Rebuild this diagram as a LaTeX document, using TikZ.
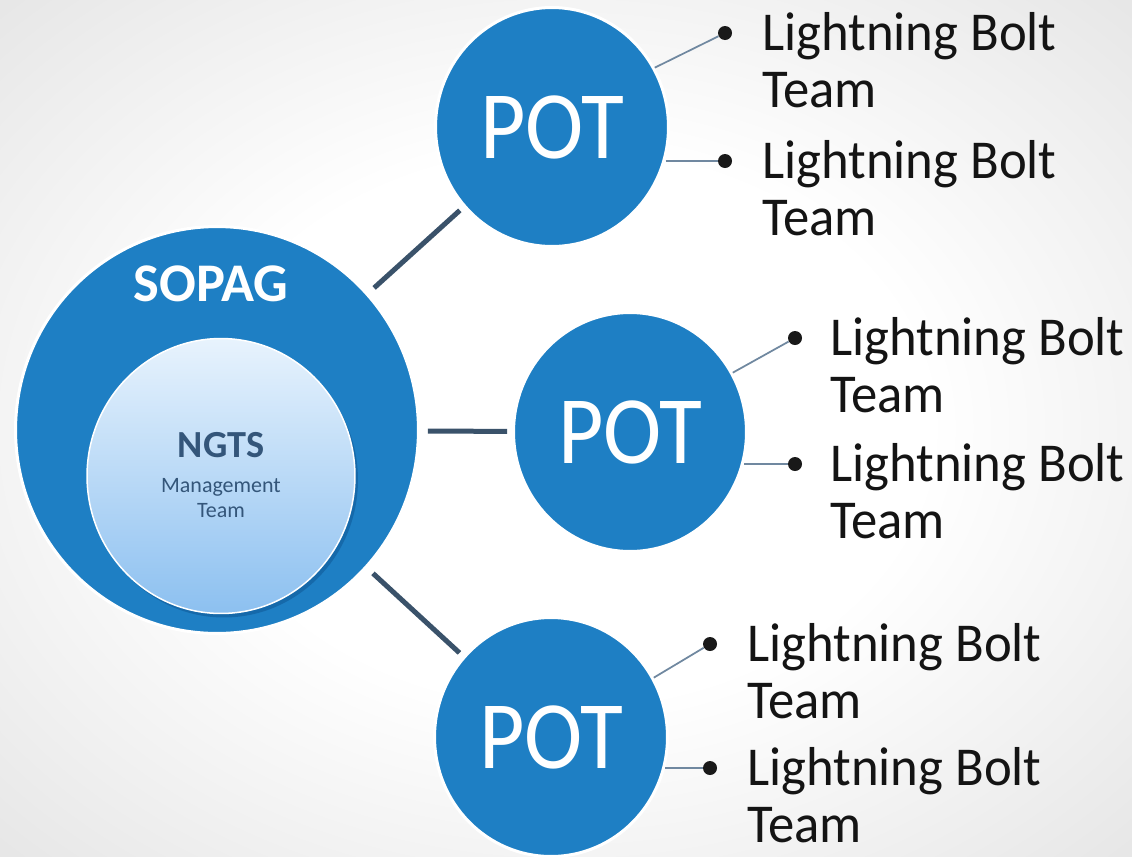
\documentclass[tikz,border=0pt]{standalone}
\usepackage{fontspec}
\setmainfont{Carlito}
\usepackage{graphicx}
\usetikzlibrary{shapes.geometric}
\definecolor{potblue}{RGB}{30,127,196}
\definecolor{bggray}{RGB}{194,194,194}
\definecolor{bgmid}{RGB}{212,212,212}
\definecolor{linkdark}{RGB}{58,82,106}
\definecolor{linkthin}{RGB}{112,136,160}
\definecolor{ngtstop}{RGB}{232,243,253}
\definecolor{ngtsbot}{RGB}{140,192,240}
\definecolor{ngtstext}{RGB}{52,86,122}
\definecolor{shadowblue}{RGB}{18,96,160}
\pgfdeclareradialshading{bgshade}{\pgfpoint{0bp}{0bp}}{color(0bp)=(white); color(16bp)=(white); color(50bp)=(bgmid); color(72bp)=(bggray)}
\newcommand\lbtext{\scalebox{1}[1.04]{\vtop{\hbox{Lightning Bolt}\hbox{Team}}}}
\newcommand\pottext{\scalebox{1}[1.1]{POT}}
\begin{document}
\begin{tikzpicture}[x=0.02cm,y=-0.02cm,
  blob/.style={ellipse, draw=white, line width=0.06cm, fill=potblue, inner sep=0pt},
  pot/.style={blob, minimum width=4.66cm, minimum height=4.78cm, text=white, font=\fontsize{50}{50}\selectfont},
  bulletdot/.style={circle, fill=black!90, inner sep=0pt, minimum size=0.28cm},
  lbitem/.style={anchor=base west, inner sep=0pt, text=black!92, font=\fontsize{30}{31.2}\selectfont},
  mainlink/.style={draw=linkdark, line width=0.1cm, shorten <=0.16cm, shorten >=0.1cm},
  thinlink/.style={draw=linkthin, line width=0.035cm},
]
\useasboundingbox (0,0) rectangle (1132,856);
\shade[shading=bgshade] (0,0) rectangle (1132,856);

% SOPAG
\node[blob, minimum width=8.06cm, minimum height=8.14cm] (sopag) at (217,430) {};
\node[text=white, font=\bfseries\fontsize{31}{31}\selectfont, inner sep=0pt] (sopagtxt) at (211,284) {SOPAG};
\node[ellipse, fill=shadowblue, fill opacity=0.7, inner sep=0pt, minimum width=5.36cm, minimum height=5.5cm] (ngtsshadow) at (224,480) {};
\node[ellipse, draw=white, line width=0.03cm, top color=ngtstop, bottom color=ngtsbot, inner sep=0pt, minimum width=5.36cm, minimum height=5.5cm] (ngts) at (221,476) {};
\node[align=center, text=ngtstext, inner sep=0pt, font=\fontsize{12.5}{14.2}\selectfont] (ngtstxt) at (221,475)
  {{\bfseries\fontsize{21.8}{21.8}\selectfont NGTS}\\[6pt]Management\\Team};

% POT circles
\node[pot] (pot1) at (552,127) {\pottext};
\node[pot] (pot2) at (630,432) {\pottext};
\node[pot] (pot3) at (551,737) {\pottext};

% main links
\draw[mainlink] (sopag) -- (pot1);
\draw[mainlink] (sopag) -- (pot2);
\draw[mainlink] (sopag) -- (pot3);

% bullets and items, top
\node[bulletdot] (b11) at (725,33) {};
\node[bulletdot] (b12) at (725,161) {};
\node[lbitem] (t11) at (762,50) {\lbtext};
\node[lbitem] (t12) at (762,178) {\lbtext};
\draw[thinlink] (pot1.30) -- (b11);
\draw[thinlink] (pot1.-16 |- b12) -- (b12);

% middle
\node[bulletdot] (b21) at (795,338) {};
\node[bulletdot] (b22) at (795,464) {};
\node[lbitem] (t21) at (830,355) {\lbtext};
\node[lbitem] (t22) at (830,481) {\lbtext};
\draw[thinlink] (pot2.30) -- (b21);
\draw[thinlink] (pot2.-15 |- b22) -- (b22);

% bottom
\node[bulletdot] (b31) at (710,644) {};
\node[bulletdot] (b32) at (710,768) {};
\node[lbitem] (t31) at (747,661) {\lbtext};
\node[lbitem] (t32) at (747,785) {\lbtext};
\draw[thinlink] (pot3.30) -- (b31);
\draw[thinlink] (pot3.-15 |- b32) -- (b32);
\end{tikzpicture}
\end{document}
